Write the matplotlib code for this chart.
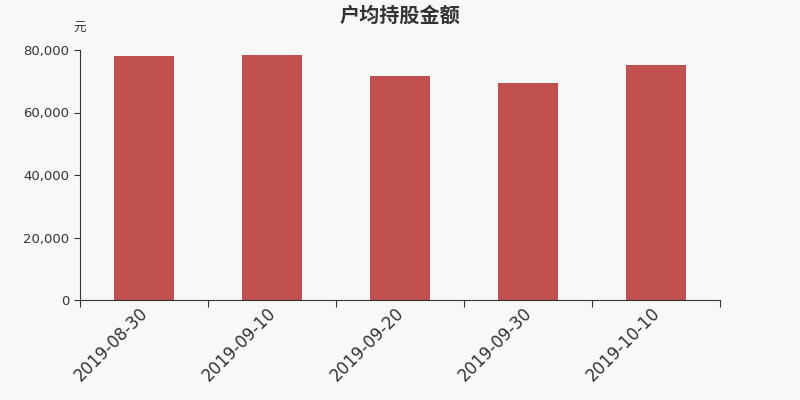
import matplotlib.pyplot as plt
import matplotlib.transforms as mtransforms
import numpy as np

plt.rcParams['font.family'] = ['Noto Sans CJK SC', 'DejaVu Sans']

dates = ["2019-08-30", "2019-09-10", "2019-09-20", "2019-09-30", "2019-10-10"]
amounts = [78200, 78500, 71700, 69500, 75300]

bg = '#f8f8f8'
fig = plt.figure(figsize=(8, 4), dpi=100, facecolor=bg)
ax = fig.add_axes([0.1, 0.25, 0.8, 0.625], facecolor=bg)

x = np.arange(len(dates))
ax.bar(x, amounts, width=0.47, color='#c0504d')

ax.set_xlim(-0.5, len(dates) - 0.5)
ax.set_ylim(0, 80000)
ax.set_yticks([0, 20000, 40000, 60000, 80000])
ax.set_yticklabels([f"{v:,}" for v in [0, 20000, 40000, 60000, 80000]],
                   fontsize=9.5, color='#333333', family='DejaVu Sans')
ax.set_xticks(np.arange(len(dates) + 1) - 0.5)
ax.set_xticklabels([])
ax.set_xticks(x, minor=True)
ax.set_xticklabels(dates, minor=True, rotation=45, ha='right', rotation_mode='anchor',
                   fontsize=12, color='#333333', family='DejaVu Sans')
ax.tick_params(axis='x', which='minor', length=0, pad=3)
ax.tick_params(axis='x', which='major', length=5, color='#333333')
ax.tick_params(axis='y', length=4, color='#333333')

# nudge the rotated date labels a little to the left
shift = mtransforms.ScaledTranslation(-5 / 100, 0, fig.dpi_scale_trans)
for lbl in ax.get_xticklabels(minor=True):
    lbl.set_transform(lbl.get_transform() + shift)

for s in ['top', 'right']:
    ax.spines[s].set_visible(False)
ax.spines['left'].set_color('#333333')
ax.spines['bottom'].set_color('#333333')

fig.text(0.5, 0.962, "户均持股金额", ha='center', va='center', fontsize=14.5,
         fontweight='bold', color='#333333')
fig.text(0.099, 0.928, "元", ha='center', va='center', fontsize=9, color='#333333')

fig.savefig('out.png', dpi=100, facecolor=bg)
